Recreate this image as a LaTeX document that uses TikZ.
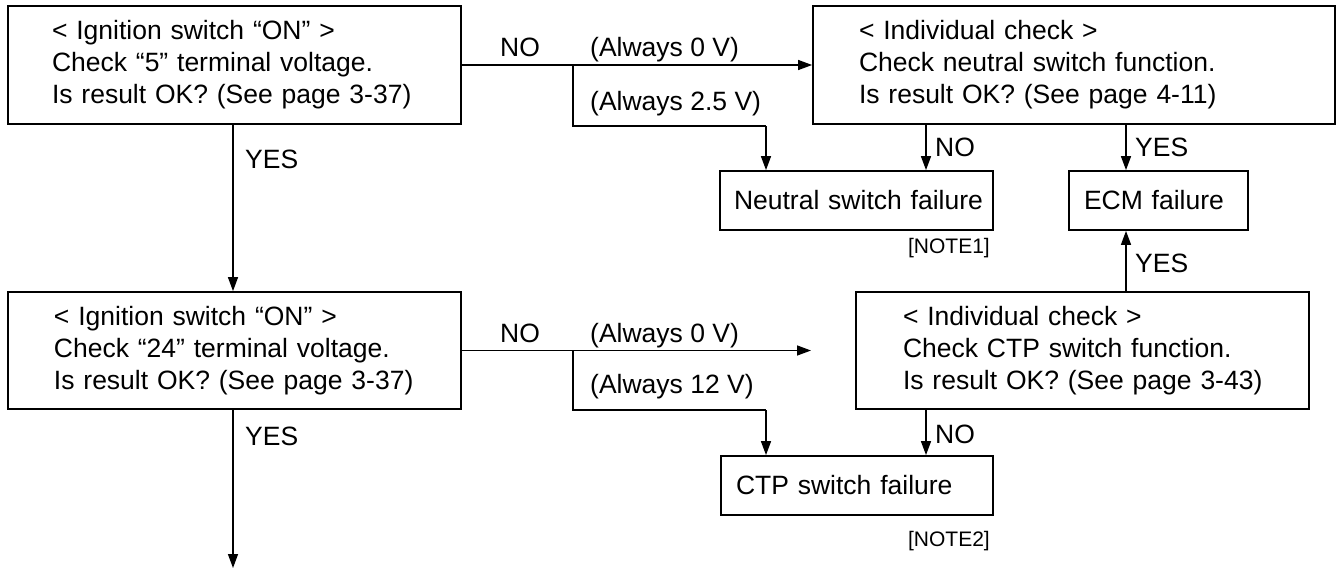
\documentclass[tikz,border=0pt]{standalone}
\usepackage{fontspec}
\setmainfont{Liberation Sans}
\usetikzlibrary{arrows.meta}
\newcommand\bxind[1]{\hspace*{#1pt}}
\begin{document}
\begin{tikzpicture}[x=1pt,y=-1pt,
  every node/.style={font=\fontsize{26.5pt}{32pt}\selectfont},
  bigbox/.style={draw, line width=1.8pt, inner xsep=0pt, inner ysep=0pt, align=left, minimum height=118pt},
  smallbox/.style={draw, line width=1.8pt, inner xsep=0pt, inner ysep=0pt, align=left, minimum height=59pt},
  lbl/.style={inner sep=0pt, anchor=base west},
  note/.style={inner sep=0pt, anchor=base east, font=\fontsize{21pt}{24pt}\selectfont},
  conn/.style={line width=1.4pt},
  arr/.style={conn, -{Triangle[length=14pt,width=10pt]}}]
\useasboundingbox (0,0) rectangle (1338,571);

% boxes
\node[bigbox, text width=453pt] (b1) at (234.5,65)
  {\bxind{44}< Ignition switch “ON” >\\\bxind{44}Check “5” terminal voltage.\\\bxind{44}Is result OK? (See page 3-37)};
\node[bigbox, text width=522pt] (b2) at (1074,65)
  {\bxind{46}< Individual check >\\\bxind{46}Check neutral switch function.\\\bxind{46}Is result OK? (See page 4-11)};
\node[bigbox, text width=453pt, minimum height=117pt] (b3) at (234.5,350.5)
  {\bxind{46}< Ignition switch “ON” >\\\bxind{46}Check “24” terminal voltage.\\\bxind{46}Is result OK? (See page 3-37)};
\node[bigbox, text width=453pt, minimum height=117pt] (b4) at (1082.5,350.5)
  {\bxind{47}< Individual check >\\\bxind{47}Check CTP switch function.\\\bxind{47}Is result OK? (See page 3-43)};
\node[smallbox, text width=273pt] (n1) at (856.5,200.5) {\bxind{14}Neutral switch failure};
\node[smallbox, text width=179pt] (e1) at (1158.5,200.5) {\bxind{15}ECM failure};
\node[smallbox, text width=272pt] (c1) at (857,485.5) {\bxind{15}CTP switch failure};

% helper coordinates
\coordinate (xs) at (233,0);
\coordinate (xn) at (926,0);
\coordinate (xe) at (1126,0);
\coordinate (br1) at (573,65);
\coordinate (k1) at (573,126);
\coordinate (k2) at (766,126);
\coordinate (br2) at (573,350.5);
\coordinate (k3) at (573,410);
\coordinate (k4) at (766,410);
\coordinate (tip2) at (811,350.5);
\coordinate (fin) at (233,568);

% connectors
\draw[arr] (b1.south -| xs) -- (b3.north -| xs);
\draw[arr] (b3.south -| xs) -- (fin);
\draw[arr] (b1.east) -- (b2.west);
\draw[conn] (br1) -- (k1) -- (k2);
\draw[arr] (k2) -- (n1.north -| k2);
\draw[arr] (b2.south -| xn) -- (n1.north -| xn);
\draw[arr] (b2.south -| xe) -- (e1.north -| xe);
\draw[arr] (b4.north -| xe) -- (e1.south -| xe);
\draw[arr] (b3.east) -- (tip2);
\draw[conn] (br2) -- (k3) -- (k4);
\draw[arr] (k4) -- (c1.north -| k4);
\draw[arr] (b4.south -| xn) -- (c1.north -| xn);

% labels
\node[lbl] (l1) at (500,56) {NO};
\node[lbl] (l2) at (590,56) {(Always 0 V)};
\node[lbl] (l3) at (590,110) {(Always 2.5 V)};
\node[lbl] (l4) at (500,342) {NO};
\node[lbl] (l5) at (590,342) {(Always 0 V)};
\node[lbl] (l6) at (590,393) {(Always 12 V)};
\node[lbl] (l7) at (245,168) {YES};
\node[lbl] (l8) at (245,445) {YES};
\node[lbl] (l9) at (935,156) {NO};
\node[lbl] (l10) at (1135,156) {YES};
\node[lbl] (l11) at (1135,272) {YES};
\node[lbl] (l12) at (935,443) {NO};
\node[note] (nt1) at (990,253) {[NOTE1]};
\node[note] (nt2) at (990,546) {[NOTE2]};
\end{tikzpicture}
\end{document}
